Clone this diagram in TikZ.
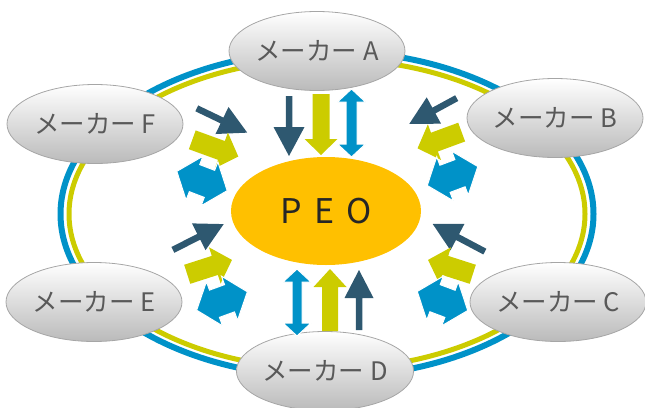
\documentclass[tikz,border=0pt]{standalone}
\usepackage{fontspec}
\newfontfamily\jpfont{Noto Sans CJK JP}
\usetikzlibrary{shapes.geometric}
\definecolor{cblue}{RGB}{0,146,200}
\definecolor{cyel}{RGB}{204,204,0}
\definecolor{cdark}{RGB}{46,88,112}
\definecolor{corange}{RGB}{255,192,0}
\definecolor{ctext}{RGB}{89,89,89}
\definecolor{cborder}{RGB}{166,166,166}
\tikzset{
  ring/.style={ellipse, draw=#1, inner sep=0pt},
  maker/.style={ellipse, draw=cborder, line width=0.8pt, top color=white, middle color=white, bottom color=black!27,
    minimum width=176pt, minimum height=79pt, inner sep=0pt, text=ctext,
    font=\jpfont\fontsize{25.5}{25.5}\selectfont},
  peo/.style={ellipse, fill=corange, minimum width=190pt, minimum height=108pt, inner sep=0pt,
    text=black!85, font=\jpfont\fontsize{34}{34}\selectfont},
  pics/onearrow/.style n args={5}{code={
    \fill[#5] ({-#1/2},{-#2/2}) -- ({#1/2-#3},{-#2/2}) -- ({#1/2-#3},{-#4/2}) -- ({#1/2},0)
      -- ({#1/2-#3},{#4/2}) -- ({#1/2-#3},{#2/2}) -- ({-#1/2},{#2/2}) -- cycle;
  }},
  pics/twoarrow/.style n args={5}{code={
    \filldraw[fill=#5, draw=white, line width=1pt] ({-#1/2},0) -- ({-#1/2+#3},{-#4/2}) -- ({-#1/2+#3},{-#2/2})
      -- ({#1/2-#3},{-#2/2}) -- ({#1/2-#3},{-#4/2}) -- ({#1/2},0) -- ({#1/2-#3},{#4/2})
      -- ({#1/2-#3},{#2/2}) -- ({-#1/2+#3},{#2/2}) -- ({-#1/2+#3},{#4/2}) -- cycle;
  }},
}
\begin{document}
\begin{tikzpicture}[x=1pt,y=-1pt]
\useasboundingbox (0,0) rectangle (645,407);
% rings
\node[ring=cblue, line width=6pt, minimum width=533pt, minimum height=326pt] (ringB) at (327,214) {};
\node[ring=cyel, line width=5pt, minimum width=516pt, minimum height=310pt] (ringY) at (327,214) {};
% makers
\node[maker] (A) at (317,51) {メーカー A};
\node[maker] (B) at (555,118) {メーカー B};
\node[maker] (C) at (558,302) {メーカー C};
\node[maker] (D) at (325,371) {メーカー D};
\node[maker] (E) at (94,302) {メーカー E};
\node[maker] (F) at (95,124) {メーカー F};
% centre
\node[peo] (P) at (326,211) {P\hspace{0.35em}E\hspace{0.35em}O};
% A group
\pic[rotate=-90] (aK) at (289,126) {onearrow={60}{6.5}{29}{31}{cdark}};
\pic[rotate=-90] (aY) at (321,124.5) {onearrow={61}{17}{16}{33}{cyel}};
\pic[rotate=90] (aB) at (351.5,123) {twoarrow={68}{11}{13}{28}{cblue}};
% D group
\pic[rotate=90] (dB) at (297,302.5) {twoarrow={67}{10}{13}{28}{cblue}};
\pic[rotate=90] (dY) at (330,300) {onearrow={62}{16}{18}{33}{cyel}};
\pic[rotate=90] (dK) at (359,300) {onearrow={60}{6.5}{28}{29}{cdark}};
% F group
\pic[rotate=-25.7] (fK) at (222,120.5) {onearrow={56}{6.5}{28}{30}{cdark}};
\pic[rotate=-20] (fY) at (215.3,148.2) {onearrow={49}{20}{18}{38}{cyel}};
\pic[rotate=-21] (fB) at (202,181) {twoarrow={54}{29}{19}{47}{cblue}};
% B group
\pic[rotate=208.5] (bK) at (433,111) {onearrow={54}{6.5}{28}{30}{cdark}};
\pic[rotate=200.2] (bY) at (439.6,140.2) {onearrow={47}{20}{18}{38}{cyel}};
\pic[rotate=20.6] (bB) at (452.5,176) {twoarrow={54}{29}{19}{47}{cblue}};
% E group
\pic[rotate=26.9] (eK) at (198.3,237) {onearrow={57}{6.5}{28}{30}{cdark}};
\pic[rotate=17.8] (eY) at (209.6,267.1) {onearrow={47}{20}{18}{38}{cyel}};
\pic[rotate=20] (eB) at (222,301) {twoarrow={54}{29}{19}{47}{cblue}};
% C group
\pic[rotate=152.1] (cK) at (458.8,237.8) {onearrow={59}{6.5}{28}{30}{cdark}};
\pic[rotate=162.2] (cY) at (450.4,267.1) {onearrow={47}{20}{18}{38}{cyel}};
\pic[rotate=-20.7] (cB) at (442.5,301) {twoarrow={54}{29}{19}{47}{cblue}};
\end{tikzpicture}
\end{document}
